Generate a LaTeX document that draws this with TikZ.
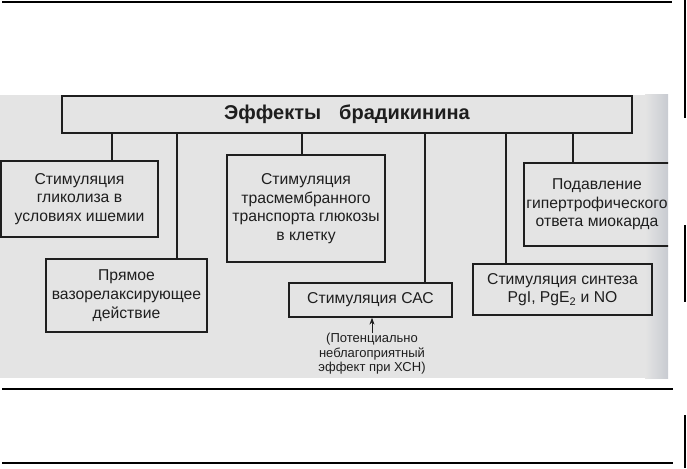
\documentclass[tikz,border=0pt]{standalone}
\usepackage{fontspec}
\setmainfont{Liberation Sans}
\usetikzlibrary{arrows.meta}
\definecolor{scangray}{RGB}{228,228,228}
\definecolor{edgegray}{RGB}{200,203,209}
\definecolor{inkgray}{RGB}{30,30,30}

\begin{document}
\begin{tikzpicture}[x=1pt,y=-1pt,
  effect/.style={draw=inkgray,line width=1.3pt,rectangle,inner sep=0pt,align=center,
    text=inkgray,font=\fontsize{15.7}{18.7}\selectfont},
  link/.style={draw=inkgray,line width=1.3pt}]
\useasboundingbox (0,0) rectangle (687,468);
% scanned page
\fill[scangray] (0,95) rectangle (668,378);
\shade[left color=scangray,right color=edgegray] (645,95) rectangle (668,378);
\draw[line width=1.2pt] (2,2) -- (672,2);
\draw[line width=1.2pt] (2,389) -- (673,389);
\draw[line width=1.2pt] (2,463) -- (673,463);
\draw[line width=1.8pt] (685,0) -- (685,118);
\draw[line width=1.8pt] (685,225) -- (685,302);
\draw[line width=1.8pt] (685,415) -- (685,468);
\begin{scope}
\clip (0,95) rectangle (668,378);
\node[effect,minimum width=570pt,minimum height=37pt,
  font=\bfseries\fontsize{20}{22}\selectfont] (title) at (347,114.5) {Эффекты\hspace{18pt}брадикинина};
\node[effect,minimum width=157pt,minimum height=76pt] (glycol) at (79.5,199) {Стимуляция\\гликолиза в\\условиях ишемии};
\node[effect,minimum width=161pt,minimum height=73pt] (vaso) at (126.5,295.5) {Прямое\\вазорелаксирующее\\действие};
\node[effect,minimum width=158pt,minimum height=107pt] (transp) at (306,208.5) {Стимуляция\\трасмембранного\\транспорта глюкозы\\в клетку};
\node[effect,minimum width=163pt,minimum height=34pt] (sas) at (370.5,300) {Стимуляция САС};
\node[effect,minimum width=179pt,minimum height=51pt] (synth) at (562.5,289.5) {Стимуляция синтеза\\PgI, PgE\textsubscript{2} и NO};
\node[effect,minimum width=146pt,minimum height=83pt] (suppr) at (597,204.5) {Подавление\\гипертрофического\\ответа миокарда};
\foreach \nd/\dx in {glycol/32.5, vaso/50.5, transp/-4, sas/54.5, synth/-56.5, suppr/-24}
  \draw[link] ([xshift=\dx pt]\nd.north) -- ([xshift=\dx pt]\nd.north |- title.south);
% remark under the SAS box
\node[inner sep=0pt,align=center,text=inkgray,font=\fontsize{13}{14.5}\selectfont] (note) at (372,354) {(Потенциально\\неблагоприятный\\эффект при ХСН)};
\draw[inkgray,line width=1pt,-{Stealth[length=7pt,width=5pt]}] (note.north) -- (note.north |- sas.south);
\end{scope}
\end{tikzpicture}
\end{document}
